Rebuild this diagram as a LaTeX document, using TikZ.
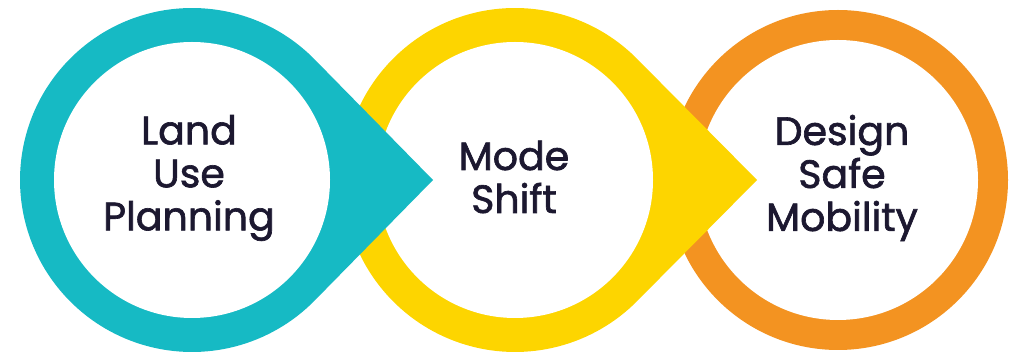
\documentclass[tikz,border=0pt]{standalone}
\usepackage{fontspec}
\setmainfont{Poppins}
\newfontfamily\ringfont{Poppins}[FakeBold=1.6]
\usepackage{tikz}
\usetikzlibrary{positioning,calc}

\definecolor{ringteal}{RGB}{22,186,196}
\definecolor{ringyellow}{RGB}{253,213,0}
\definecolor{ringorange}{RGB}{243,147,33}
\definecolor{labelnavy}{RGB}{28,24,48}

\tikzset{
    ringlabel/.style={align=center, text=labelnavy, font=\ringfont\fontsize{39.5}{43}\selectfont},
    hole/.style={fill=white}
}

\begin{document}
\begin{tikzpicture}[x=1pt,y=1pt]
    \useasboundingbox (0,0) rectangle (1010,353);
    \coordinate (tealc) at (192,173);
    \coordinate (yellowc) at (515,173);
    \coordinate (orangec) at (838,173);
    \coordinate (tealtip) at (433,173);
    \coordinate (yellowtip) at (757,173);
    % last ring first, so the tips lie on top
    \fill[ringorange] (orangec) circle[radius=170];
    \fill[hole] (orangec) circle[radius=140];
    \fill[ringyellow] (yellowc) ++(44.7:172) arc[start angle=44.7, end angle=315.3, radius=172] -- (yellowtip) -- cycle;
    \fill[hole] (yellowc) circle[radius=138];
    \fill[ringteal] (tealc) ++(44.5:172) arc[start angle=44.5, end angle=315.5, radius=172] -- (tealtip) -- cycle;
    \fill[hole] (tealc) circle[radius=138];
    % labels
    \node[ringlabel] (land) at (189,175) {Land\\Use\\Planning};
    \node[ringlabel] (mode) at (514,176) {Mode\\Shift};
    \node[ringlabel] (design) at (842,175) {Design\\Safe\\Mobility};
\end{tikzpicture}
\end{document}
